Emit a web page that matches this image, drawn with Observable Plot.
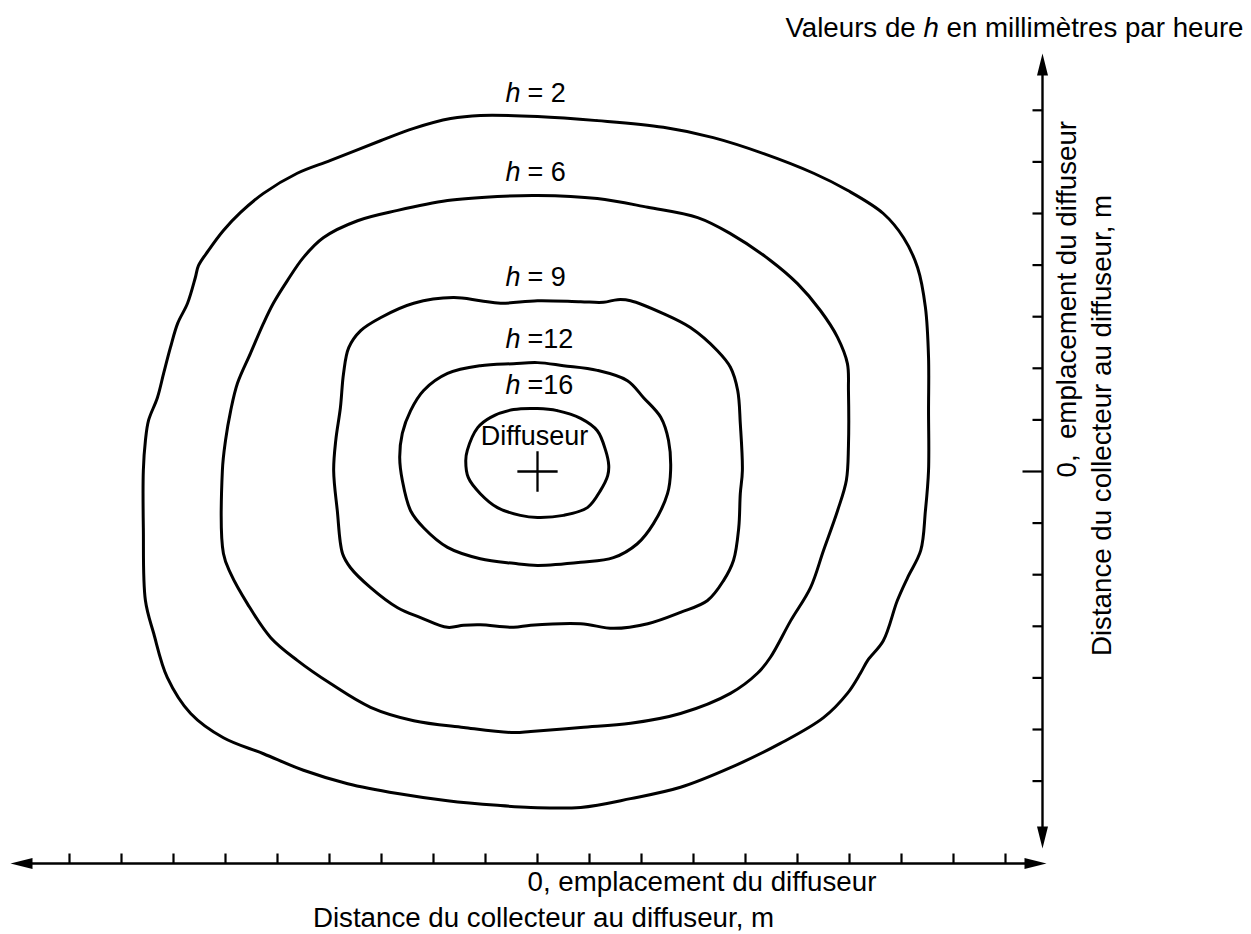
<!DOCTYPE html>
<html>
<head>
<meta charset="utf-8">
<script src="https://cdn.jsdelivr.net/npm/d3@7"></script>
<script src="https://cdn.jsdelivr.net/npm/@observablehq/plot@0.6"></script>
<style>
  html, body { margin: 0; padding: 0; background: #fff; }
  #chart { width: 1251px; height: 934px; }
</style>
</head>
<body>
<div id="chart"></div>
<script>
// ---- data (distances in tick units, relative to the diffuser) ----
const levels = [2, 6, 9, 12, 16];
const levelLabels = ["= 2", "= 6", "= 9", "=12", "=16"];
const xTicks = d3.range(-9, 10);
const yTicks = d3.range(-6, 8);

const contour2 = [[0,6.88],[1.15,6.80],[2.42,6.67],[3.38,6.47],[4.35,6.16],[5.31,5.78],[5.96,5.45],[6.65,5.00],[7.04,4.53],[7.31,3.95],[7.46,3.18],[7.52,2.21],[7.52,1.18],[7.52,0.02],[7.46,-0.76],[7.37,-1.53],[7.12,-2.05],[6.92,-2.50],[6.65,-3.28],[6.35,-3.66],[6.21,-3.91],[5.96,-4.30],[5.50,-4.77],[4.67,-5.27],[3.71,-5.74],[2.75,-6.12],[1.79,-6.34],[0.83,-6.51],[-0.13,-6.51],[-0.77,-6.47],[-1.73,-6.38],[-2.69,-6.24],[-3.65,-6.05],[-4.50,-5.79],[-5.27,-5.47],[-6.04,-5.16],[-6.67,-4.69],[-7.12,-3.99],[-7.38,-3.14],[-7.54,-2.50],[-7.58,-1.09],[-7.58,0.02],[-7.54,0.60],[-7.48,0.99],[-7.31,1.43],[-7.19,1.90],[-7.06,2.40],[-6.92,2.87],[-6.73,3.26],[-6.58,3.76],[-6.52,3.99],[-6.33,4.28],[-6.04,4.67],[-5.71,5.02],[-5.27,5.39],[-4.62,5.78],[-3.98,6.03],[-3.02,6.41],[-2.38,6.65],[-1.67,6.84],[-1.10,6.90]];
const contour6 = [[0,5.35],[1.15,5.29],[2.12,5.12],[3.08,4.92],[3.71,4.61],[4.48,4.09],[5.00,3.64],[5.44,3.12],[5.77,2.60],[5.96,2.09],[5.98,1.57],[5.98,0.50],[5.94,-0.17],[5.77,-0.76],[5.50,-1.53],[5.25,-2.25],[4.87,-2.89],[4.48,-3.60],[4.23,-3.91],[3.71,-4.30],[2.75,-4.69],[1.79,-4.88],[0.83,-4.96],[-0.13,-5.04],[-0.46,-5.06],[-1.42,-4.96],[-2.38,-4.83],[-3.21,-4.57],[-3.98,-4.11],[-4.62,-3.66],[-5.13,-3.22],[-5.58,-2.56],[-5.90,-1.98],[-6.04,-1.59],[-6.06,0.02],[-6.00,0.60],[-5.90,1.18],[-5.77,1.71],[-5.52,2.29],[-5.27,2.87],[-5.08,3.26],[-4.81,3.70],[-4.50,4.15],[-4.12,4.53],[-3.46,4.86],[-2.69,5.06],[-1.73,5.25],[-0.77,5.33]];
const contour9 = [[0,3.31],[0.83,3.29],[1.27,3.28],[1.54,3.33],[1.79,3.31],[2.42,3.06],[2.94,2.79],[3.46,2.34],[3.71,2.02],[3.85,1.57],[3.90,0.93],[3.94,0.02],[3.90,-0.43],[3.87,-1.09],[3.77,-1.72],[3.58,-2.11],[3.27,-2.50],[2.75,-2.73],[2.12,-2.95],[1.46,-3.04],[0.83,-2.95],[-0.13,-2.98],[-0.46,-3.02],[-1.10,-2.97],[-1.42,-2.98],[-1.73,-3.02],[-2.25,-2.83],[-2.69,-2.64],[-3.21,-2.25],[-3.60,-1.86],[-3.75,-1.59],[-3.85,-0.76],[-3.92,0.02],[-3.88,0.60],[-3.79,1.24],[-3.73,1.90],[-3.63,2.40],[-3.40,2.73],[-3.02,2.98],[-2.38,3.26],[-1.62,3.37],[-1.10,3.31],[-0.71,3.26]];
const contour12 = [[0,2.11],[0.50,2.05],[1.15,1.96],[1.73,1.76],[2.04,1.43],[2.37,1.05],[2.52,0.60],[2.56,0.02],[2.50,-0.43],[2.23,-1.01],[1.92,-1.40],[1.46,-1.67],[0.83,-1.76],[0,-1.82],[-0.46,-1.78],[-1.10,-1.69],[-1.73,-1.47],[-2.19,-1.09],[-2.44,-0.76],[-2.60,-0.17],[-2.65,0.27],[-2.60,0.74],[-2.44,1.18],[-2.19,1.57],[-1.73,1.90],[-1.10,2.05],[-0.46,2.09]];
const contour16 = [[0,1.22],[0.38,1.18],[0.83,1.03],[1.15,0.79],[1.31,0.41],[1.37,0.12],[1.35,-0.08],[1.21,-0.37],[0.96,-0.70],[0.50,-0.85],[0,-0.89],[-0.33,-0.85],[-0.77,-0.70],[-1.10,-0.43],[-1.33,-0.12],[-1.38,0.21],[-1.35,0.41],[-1.15,0.85],[-0.90,1.05],[-0.46,1.20]];
const contours = [contour2, contour6, contour9, contour12, contour16];

const titleText = "Valeurs de h en millimètres par heure";
const xLabel1 = "0, emplacement du diffuseur";
const xLabel2 = "Distance du collecteur au diffuseur, m";
const yLabel1 = "0,\u00a0 emplacement du diffuseur";
const yLabel2 = "Distance du collecteur au diffuseur, m";
const diffuserLabel = "Diffuseur";
const diffuser = [{x: 0, y: 0}];

// ---- layout ----
const W = 1251, H = 934, mL = 10, mR = 209, mT = 53, mB = 71;
const x0px = 537, y0px = 471, ppx = 52, ppy = 51.6;
const xDomain = [(mL - x0px) / ppx, (W - mR - x0px) / ppx];
const yDomain = [(y0px - (H - mB)) / ppy, (y0px - mT) / ppy];
const FONT = "'Liberation Sans', Arial, Helvetica, sans-serif";
const FS = 27.7;

const rows = contours.flatMap((pts, i) => pts.map(([x, y]) => ({level: levels[i], x, y})));
const tops = contours.map((pts, i) => {
  const top = pts.filter(p => p[0] === 0).reduce((a, b) => (b[1] > a[1] ? b : a));
  return {level: levels[i], label: levelLabels[i], x: top[0], y: top[1]};
});

// axes geometry
const xAxisY = yDomain[0];
const yAxisX = xDomain[1];
const rightTip = xDomain[1] + 4 / ppx;
const bottomTip = yDomain[0] + 15 / ppy;
const axisLines = [
  {x1: xDomain[0] + 12 / ppx, y1: xAxisY, x2: rightTip - 12 / ppx, y2: xAxisY},
  {x1: yAxisX, y1: yDomain[1] - 12 / ppy, x2: yAxisX, y2: bottomTip + 12 / ppy}
];
const xTickLinks = xTicks.map(t => ({x1: t, x2: t, y1: xAxisY, y2: xAxisY + 10 / ppy}));
const yTickLinks = yTicks.map(t => ({y1: t, y2: t, x1: yAxisX, x2: yAxisX - (t === 0 ? 20 : 10) / ppx}));

const L = 22, HW = 5.5;
const headSym = (dx, dy) => ({
  draw(ctx) {
    const px = -dy, py = dx;
    ctx.moveTo(0, 0);
    ctx.lineTo(-dx * L + px * HW, -dy * L + py * HW);
    ctx.lineTo(-dx * L - px * HW, -dy * L - py * HW);
    ctx.closePath();
  }
});
const heads = [
  {x: xDomain[0], y: xAxisY, s: headSym(-1, 0)},
  {x: rightTip, y: xAxisY, s: headSym(1, 0)},
  {x: yAxisX, y: yDomain[1], s: headSym(0, -1)},
  {x: yAxisX, y: bottomTip, s: headSym(0, 1)}
];

const plot = Plot.plot({
  width: W,
  height: H,
  marginLeft: mL,
  marginRight: mR,
  marginTop: mT,
  marginBottom: mB,
  x: {domain: xDomain, axis: null},
  y: {domain: yDomain, axis: null},
  style: {fontFamily: FONT, fontSize: FS + "px", background: "white", color: "black", overflow: "visible"},
  marks: [
    Plot.line(rows, {x: "x", y: "y", z: "level", curve: "catmull-rom-closed", stroke: "black", strokeWidth: 3, strokeLinejoin: "round"}),
    Plot.link(axisLines, {x1: "x1", y1: "y1", x2: "x2", y2: "y2", stroke: "black", strokeWidth: 2.4}),
    Plot.link(xTickLinks, {x1: "x1", y1: "y1", x2: "x2", y2: "y2", stroke: "black", strokeWidth: 2.2}),
    Plot.link(yTickLinks, {x1: "x1", y1: "y1", x2: "x2", y2: "y2", stroke: "black", strokeWidth: 2.2}),
    ...heads.map(h => Plot.dot([h], {x: "x", y: "y", symbol: h.s, r: 5, fill: "black", stroke: "none"})),
    Plot.dot(diffuser, {x: "x", y: "y", symbol: "plus", r: 13, stroke: "black", strokeWidth: 2.3, fill: "none"}),
    Plot.text(diffuser, {x: "x", y: "y", text: () => diffuserLabel, dx: -3, dy: -35, fontSize: 27, fill: "black"}),
    Plot.text(tops, {x: "x", y: "y", text: () => "h", dx: -32, dy: -23, textAnchor: "start", fontStyle: "italic", fontSize: 27, fill: "black"}),
    Plot.text(tops, {x: "x", y: "y", text: "label", dx: -10, dy: -23, textAnchor: "start", fontSize: 27, fill: "black"}),
    Plot.text([titleText], {text: d => d, frameAnchor: "top-right", textAnchor: "end", lineAnchor: "middle", dx: 201, dy: -25, fontSize: FS, fill: "black"}),
    Plot.text([0], {x: d => d, text: () => xLabel1, frameAnchor: "bottom", textAnchor: "start", lineAnchor: "middle", dx: -10, dy: 19, fontSize: FS, fill: "black"}),
    Plot.text([0], {x: d => d, text: () => xLabel2, frameAnchor: "bottom", textAnchor: "middle", lineAnchor: "middle", dx: 6, dy: 55, fontSize: FS, fill: "black"}),
    Plot.text([0], {y: d => d, text: () => yLabel1, frameAnchor: "right", rotate: -90, textAnchor: "start", lineAnchor: "middle", dx: 25, dy: 6, fontSize: FS, fill: "black"}),
    Plot.text([0], {y: d => d, text: () => yLabel2, frameAnchor: "right", rotate: -90, textAnchor: "middle", lineAnchor: "middle", dx: 60, dy: -46, fontSize: FS, fill: "black"})
  ]
});

// italic "h" inside the title
d3.select(plot).selectAll("text").each(function () {
  if (this.textContent === titleText) {
    while (this.firstChild) this.removeChild(this.firstChild);
    const parts = [["Valeurs de ", null], ["h", "italic"], [" en millimètres par heure", null]];
    for (const [t, s] of parts) {
      const ts = document.createElementNS("http://www.w3.org/2000/svg", "tspan");
      ts.textContent = t;
      if (s) ts.setAttribute("font-style", s);
      this.appendChild(ts);
    }
  }
});

document.getElementById("chart").appendChild(plot);
</script>
</body>
</html>
